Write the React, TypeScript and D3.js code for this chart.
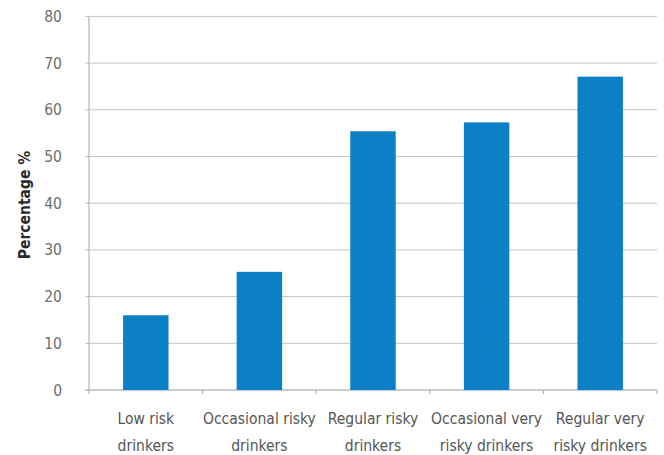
import React from "react";
import * as d3 from "d3";

const categories: string[][] = [
  ["Low risk", "drinkers"],
  ["Occasional risky", "drinkers"],
  ["Regular risky", "drinkers"],
  ["Occasional very", "risky drinkers"],
  ["Regular very", "risky drinkers"],
];
const values: number[] = [16, 25.3, 55.4, 57.3, 67.1];
const yTicks: number[] = [0, 10, 20, 30, 40, 50, 60, 70, 80];
const yTitle = "Percentage %";

const W = 664;
const H = 455;
const margin = { left: 89, right: 7, top: 16.4, bottom: 65 };

export default function App() {
  const keys = categories.map((_, i) => String(i));
  const x = d3
    .scaleBand<string>()
    .domain(keys)
    .range([margin.left, W - margin.right])
    .paddingInner(0.6)
    .paddingOuter(0.3);
  const y = d3.scaleLinear().domain([0, 80]).range([H - margin.bottom, margin.top]);
  const step = x.step();
  const x0 = margin.left;
  const x1 = W - margin.right;
  const font = "'DejaVu Sans Condensed', 'DejaVu Sans', sans-serif";

  return (
    <svg
      width={W}
      height={H}
      style={{ position: "absolute", left: 0, top: 0, background: "#fff" }}
    >
      {/* horizontal gridlines and y ticks */}
      {yTicks.map((t) => (
        <g key={t}>
          <line
            x1={x0 - 4}
            x2={x1}
            y1={y(t)}
            y2={y(t)}
            stroke={t === 0 ? "#9a9a9a" : "#c4c4c4"}
            strokeWidth={1}
          />
          <text
            x={62}
            y={y(t)}
            dy="0.36em"
            textAnchor="end"
            fontFamily={font}
            fontSize={15.5}
            fill="#6e6e6e"
          >
            {t}
          </text>
        </g>
      ))}
      {/* y axis line */}
      <line x1={x0} x2={x0} y1={y(80)} y2={y(0) + 4} stroke="#a8a8a8" strokeWidth={1} />
      {/* category boundary ticks */}
      {keys.map((k, i) => (
        <line
          key={"t" + k}
          x1={x0 + step * (i + 1)}
          x2={x0 + step * (i + 1)}
          y1={y(0)}
          y2={y(0) + 4}
          stroke="#a8a8a8"
        />
      ))}
      {/* bars */}
      {values.map((v, i) => (
        <rect
          key={"b" + i}
          x={x(String(i))}
          y={y(v)}
          width={x.bandwidth()}
          height={y(0) - y(v)}
          fill="#0b80c6"
        />
      ))}
      {/* category labels */}
      {categories.map((lines, i) => (
        <text
          key={"c" + i}
          textAnchor="middle"
          fontFamily={font}
          fontSize={15.5}
          fill="#555"
        >
          {lines.map((l, j) => (
            <tspan key={j} x={(x(String(i)) as number) + x.bandwidth() / 2} y={423.5 + j * 27.5}>
              {l}
            </tspan>
          ))}
        </text>
      ))}
      {/* y axis title */}
      <text
        transform={`translate(30, 205) rotate(-90)`}
        textAnchor="middle"
        fontFamily={font}
        fontSize={15.5}
        fontWeight="bold"
        fill="#2a2a2a"
      >
        {yTitle}
      </text>
    </svg>
  );
}
